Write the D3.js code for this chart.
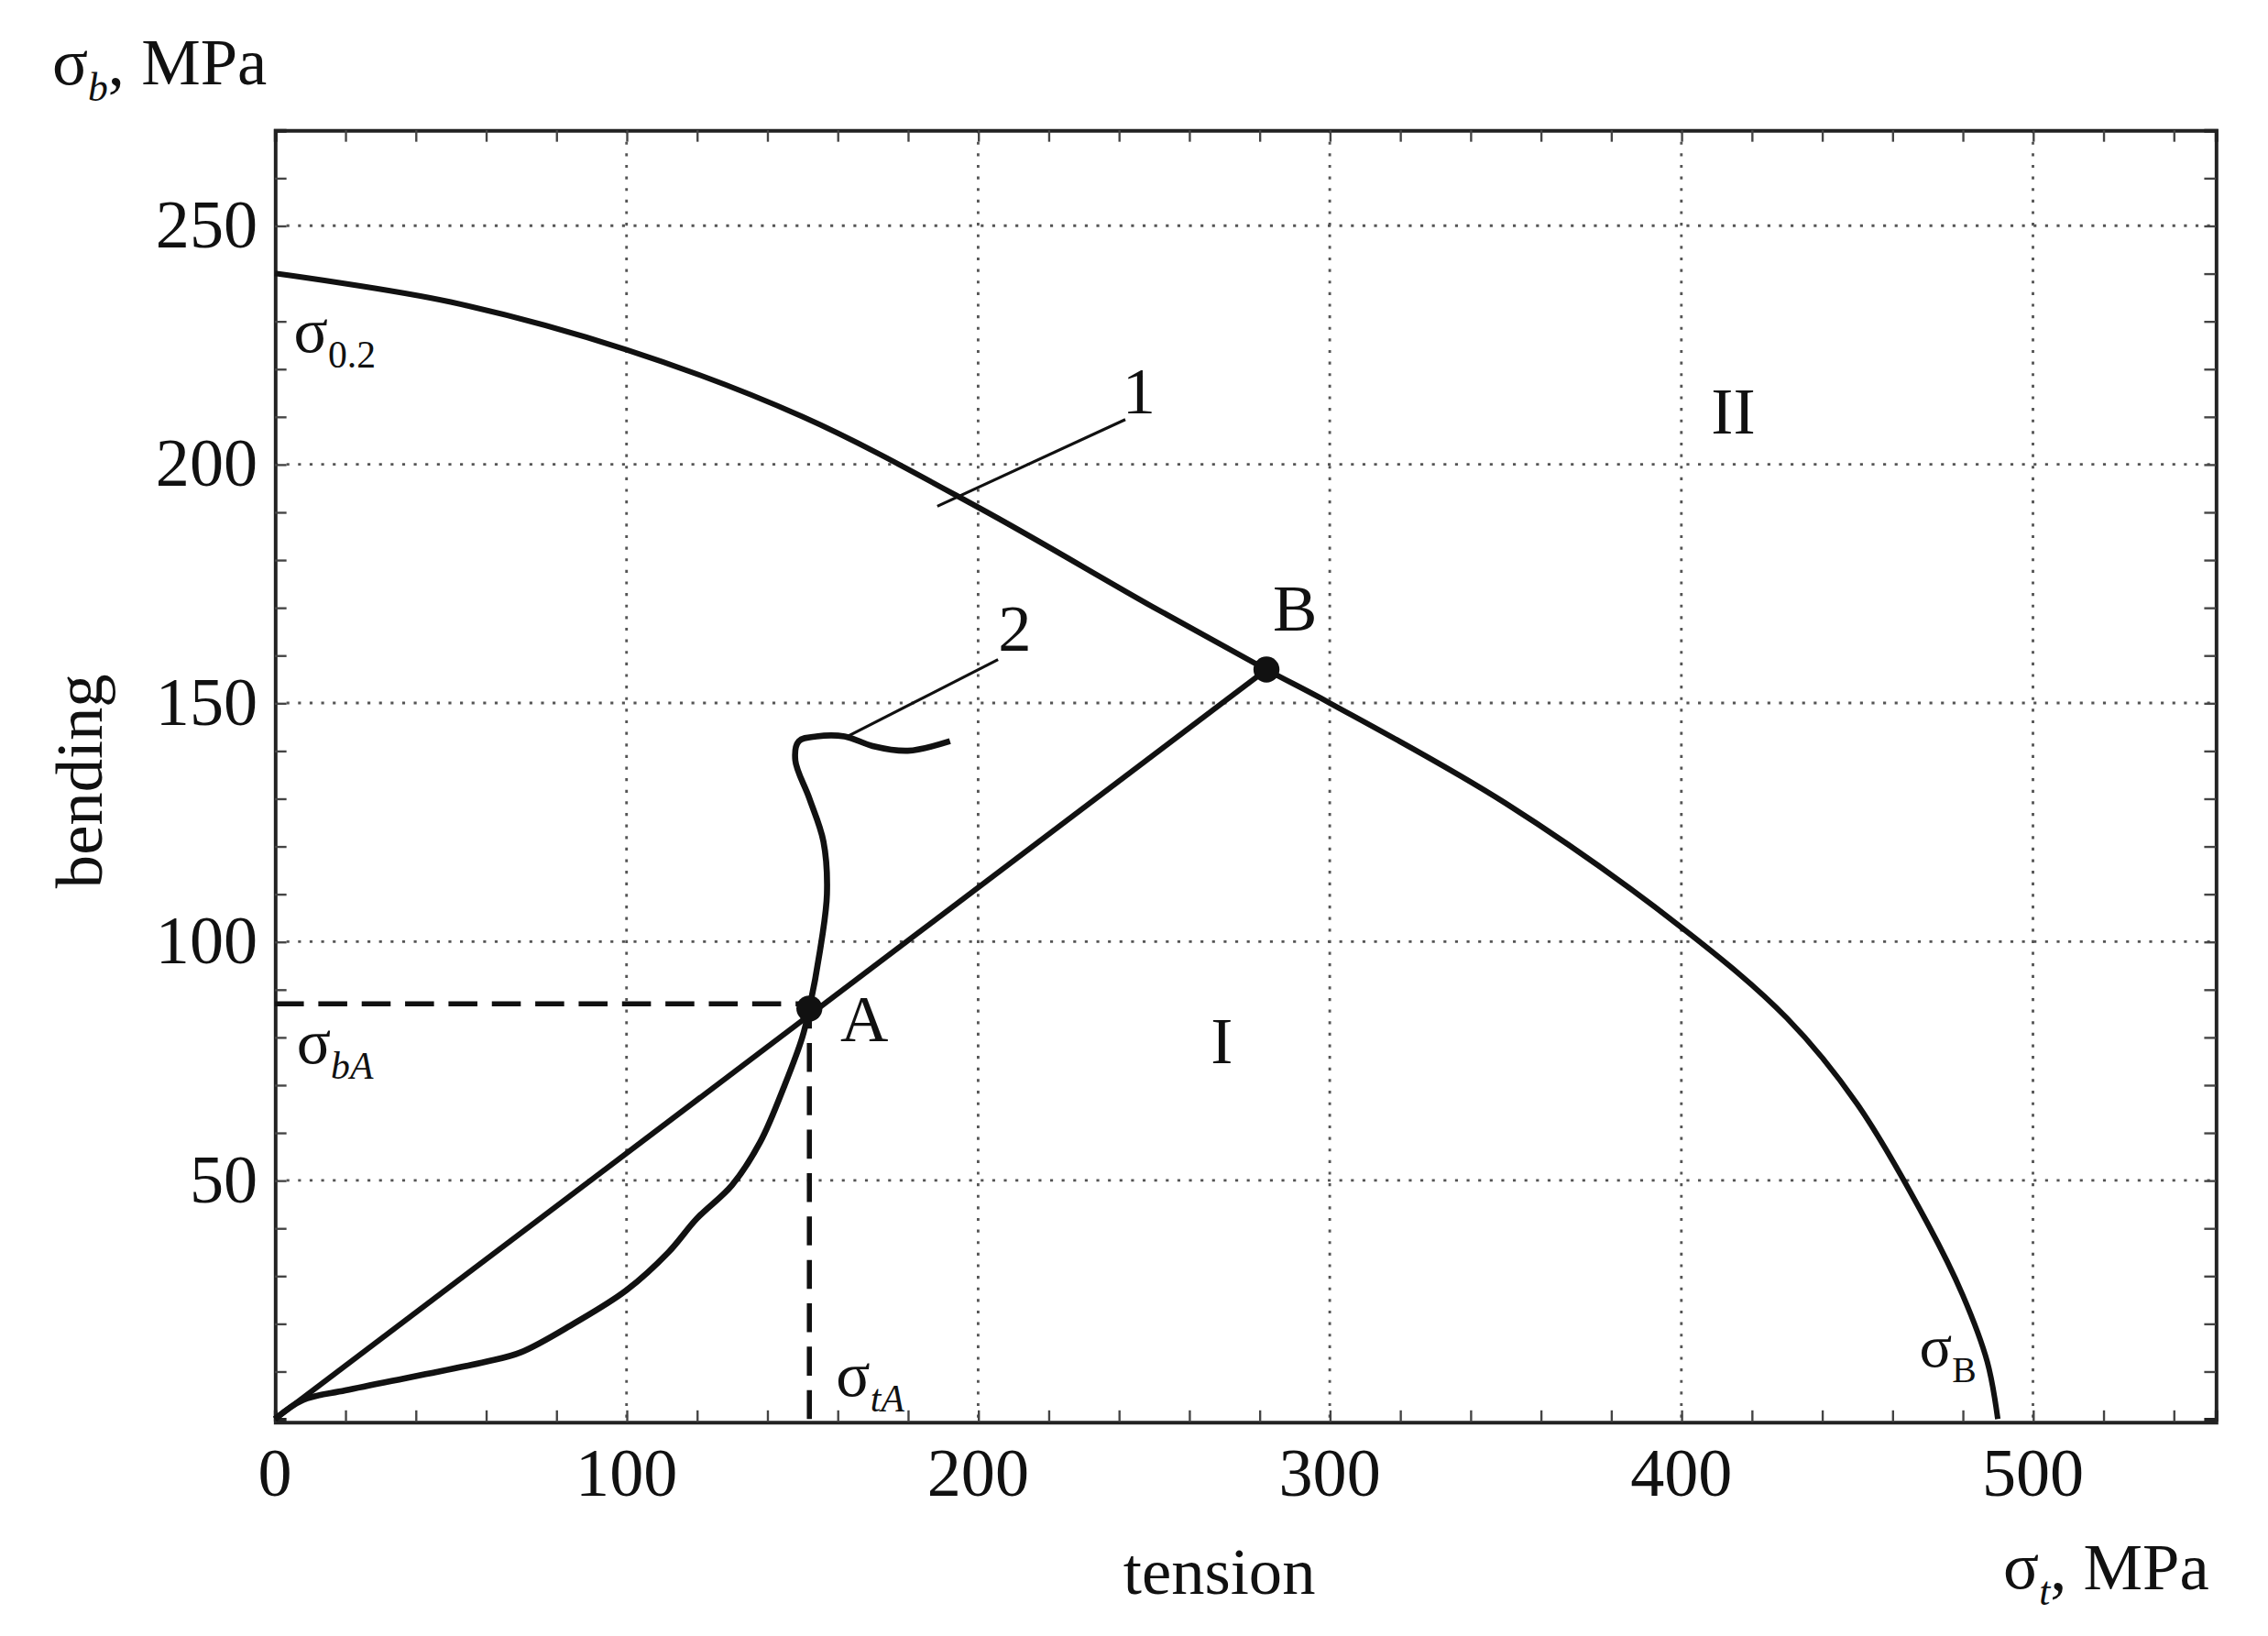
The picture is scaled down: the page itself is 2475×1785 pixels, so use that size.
<!DOCTYPE html>
<html><head><meta charset="utf-8">
<script src="https://cdn.jsdelivr.net/npm/d3@7"></script>
<style>body{margin:0;background:#fff}svg{display:block}text{font-family:"Liberation Serif","DejaVu Serif",serif;fill:#111}</style>
</head><body><svg id="c" width="2475" height="1785" viewBox="0 0 1568 1131"></svg>
<script>
const xTicks=[0,100,200,300,400,500];
const yTicks=[50,100,150,200,250];
const curve1=[[0,240],[50,234],[100,224],[150,210],[200,191],[250,170],[282,157],[300,150],[350,129],[400,103],[430,84],[450,66],[470,41],[480,26],[487,12],[490,0]];
const curve2=[[0,0],[8,4],[20,6],[40,9],[60,12],[70,14],[85,20],[100,27],[112,35],[120,42],[130,49],[138,58],[145,70],[150,80],[152,86],[155,98],[157,110],[156,121],[152,130],[148,138],[149,142],[154,143],[162,143],[170,141],[180,140],[192,142]];
const lineOB=[[0,0],[282,157]];
const pointA=[152,86], pointB=[282,157];

const svg=d3.select("#c");
const x=d3.scaleLinear().domain([0,552]).range([190,1532]);
const y=d3.scaleLinear().domain([0,270]).range([981,90]);
const L=190,R=1532,T=90,B=983;
svg.append("g").selectAll("line").data(xTicks.slice(1)).join("line")
 .attr("x1",d=>x(d)).attr("x2",d=>x(d)).attr("y1",T).attr("y2",B)
 .attr("stroke","#555").attr("stroke-width",1.8).attr("stroke-dasharray","2,6");
svg.append("g").selectAll("line").data(yTicks).join("line")
 .attr("y1",d=>y(d)).attr("y2",d=>y(d)).attr("x1",L).attr("x2",R)
 .attr("stroke","#555").attr("stroke-width",1.8).attr("stroke-dasharray","2,6");
const gx=svg.append("g").attr("transform",`translate(0,${B})`).call(d3.axisBottom(x).tickValues(d3.range(0,552,20)).tickSize(-8).tickFormat(""));
const gx2=svg.append("g").attr("transform",`translate(0,${T})`).call(d3.axisTop(x).tickValues(d3.range(0,552,20)).tickSize(-8).tickFormat(""));
const gy=svg.append("g").attr("transform",`translate(${L},0)`).call(d3.axisLeft(y).tickValues(d3.range(10,270,10)).tickSize(-8).tickFormat(""));
const gy2=svg.append("g").attr("transform",`translate(${R},0)`).call(d3.axisRight(y).tickValues(d3.range(10,270,10)).tickSize(-8).tickFormat(""));
[gx,gx2,gy,gy2].forEach(g=>{g.selectAll("path").attr("stroke","#222").attr("stroke-width",2.5);g.selectAll("line").attr("stroke","#444").attr("stroke-width",1.5);});
svg.append("g").selectAll("text").data(xTicks).join("text").attr("x",d=>x(d)).attr("y",1034)
 .attr("text-anchor","middle").attr("font-size",47).text(d=>d);
svg.append("g").selectAll("text").data(yTicks).join("text").attr("x",178).attr("y",d=>y(d)+15)
 .attr("text-anchor","end").attr("font-size",47).text(d=>d);
svg.append("path").attr("d",d3.line()([[x(0),y(pointA[1]+1)],[x(pointA[0]),y(pointA[1]+1)]])).attr("stroke","#111").attr("stroke-width",3.5).attr("fill","none").attr("stroke-dasharray","20,10");
svg.append("path").attr("d",d3.line()([[x(pointA[0]),y(0)],[x(pointA[0]),y(pointA[1])]])).attr("stroke","#111").attr("stroke-width",3.5).attr("fill","none").attr("stroke-dasharray","20,10");
const ln=()=>d3.line().x(d=>x(d[0])).y(d=>y(d[1]));
svg.append("path").attr("d",ln().curve(d3.curveCatmullRom)(curve1)).attr("fill","none").attr("stroke","#111").attr("stroke-width",3.8);
svg.append("path").attr("d",ln().curve(d3.curveCatmullRom)(curve2)).attr("fill","none").attr("stroke","#111").attr("stroke-width",4.2);
svg.append("path").attr("d",ln()(lineOB)).attr("fill","none").attr("stroke","#111").attr("stroke-width",3.8);
[pointA,pointB].forEach(p=>svg.append("circle").attr("cx",x(p[0])).attr("cy",y(p[1])).attr("r",9).attr("fill","#111"));
svg.append("line").attr("x1",648).attr("y1",350).attr("x2",778).attr("y2",290).attr("stroke","#111").attr("stroke-width",2);
svg.append("line").attr("x1",586).attr("y1",509).attr("x2",690).attr("y2",456).attr("stroke","#111").attr("stroke-width",2);
function t(xp,yp,s,fs,extra){const e=svg.append("text").attr("x",xp).attr("y",yp).attr("font-size",fs).text(s);if(extra)extra(e);return e;}
t(776,286,"1",46);t(690,450,"2",46);t(1183,300,"II",46);t(837,735,"I",46);t(880,436,"B",46);t(581,720,"A",46);
function sig(xp,yp,sub,fs,italic){const e=svg.append("text").attr("x",xp).attr("y",yp).attr("font-size",fs);
 e.append("tspan").text("σ");e.append("tspan").attr("font-size",fs*0.6).attr("dy",fs*0.25).attr("font-style",italic?"italic":"normal").text(sub);return e;}
sig(203,243,"0.2",44,false);
sig(205,735,"bA",44,true);
sig(578,965,"tA",44,true);
sig(1327,945,"B",42,false);
const a=sig(36,58,"b",46,true); a.append("tspan").attr("dy",-11).text(", MPa");
const b=sig(1385,1098,"t",46,true); b.append("tspan").attr("dy",-11).text(", MPa");
t(843,1102,"tension",46,e=>e.attr("text-anchor","middle"));
t(0,0,"bending",46,e=>e.attr("text-anchor","middle").attr("transform","translate(70,540) rotate(-90)"));
</script></body></html>
